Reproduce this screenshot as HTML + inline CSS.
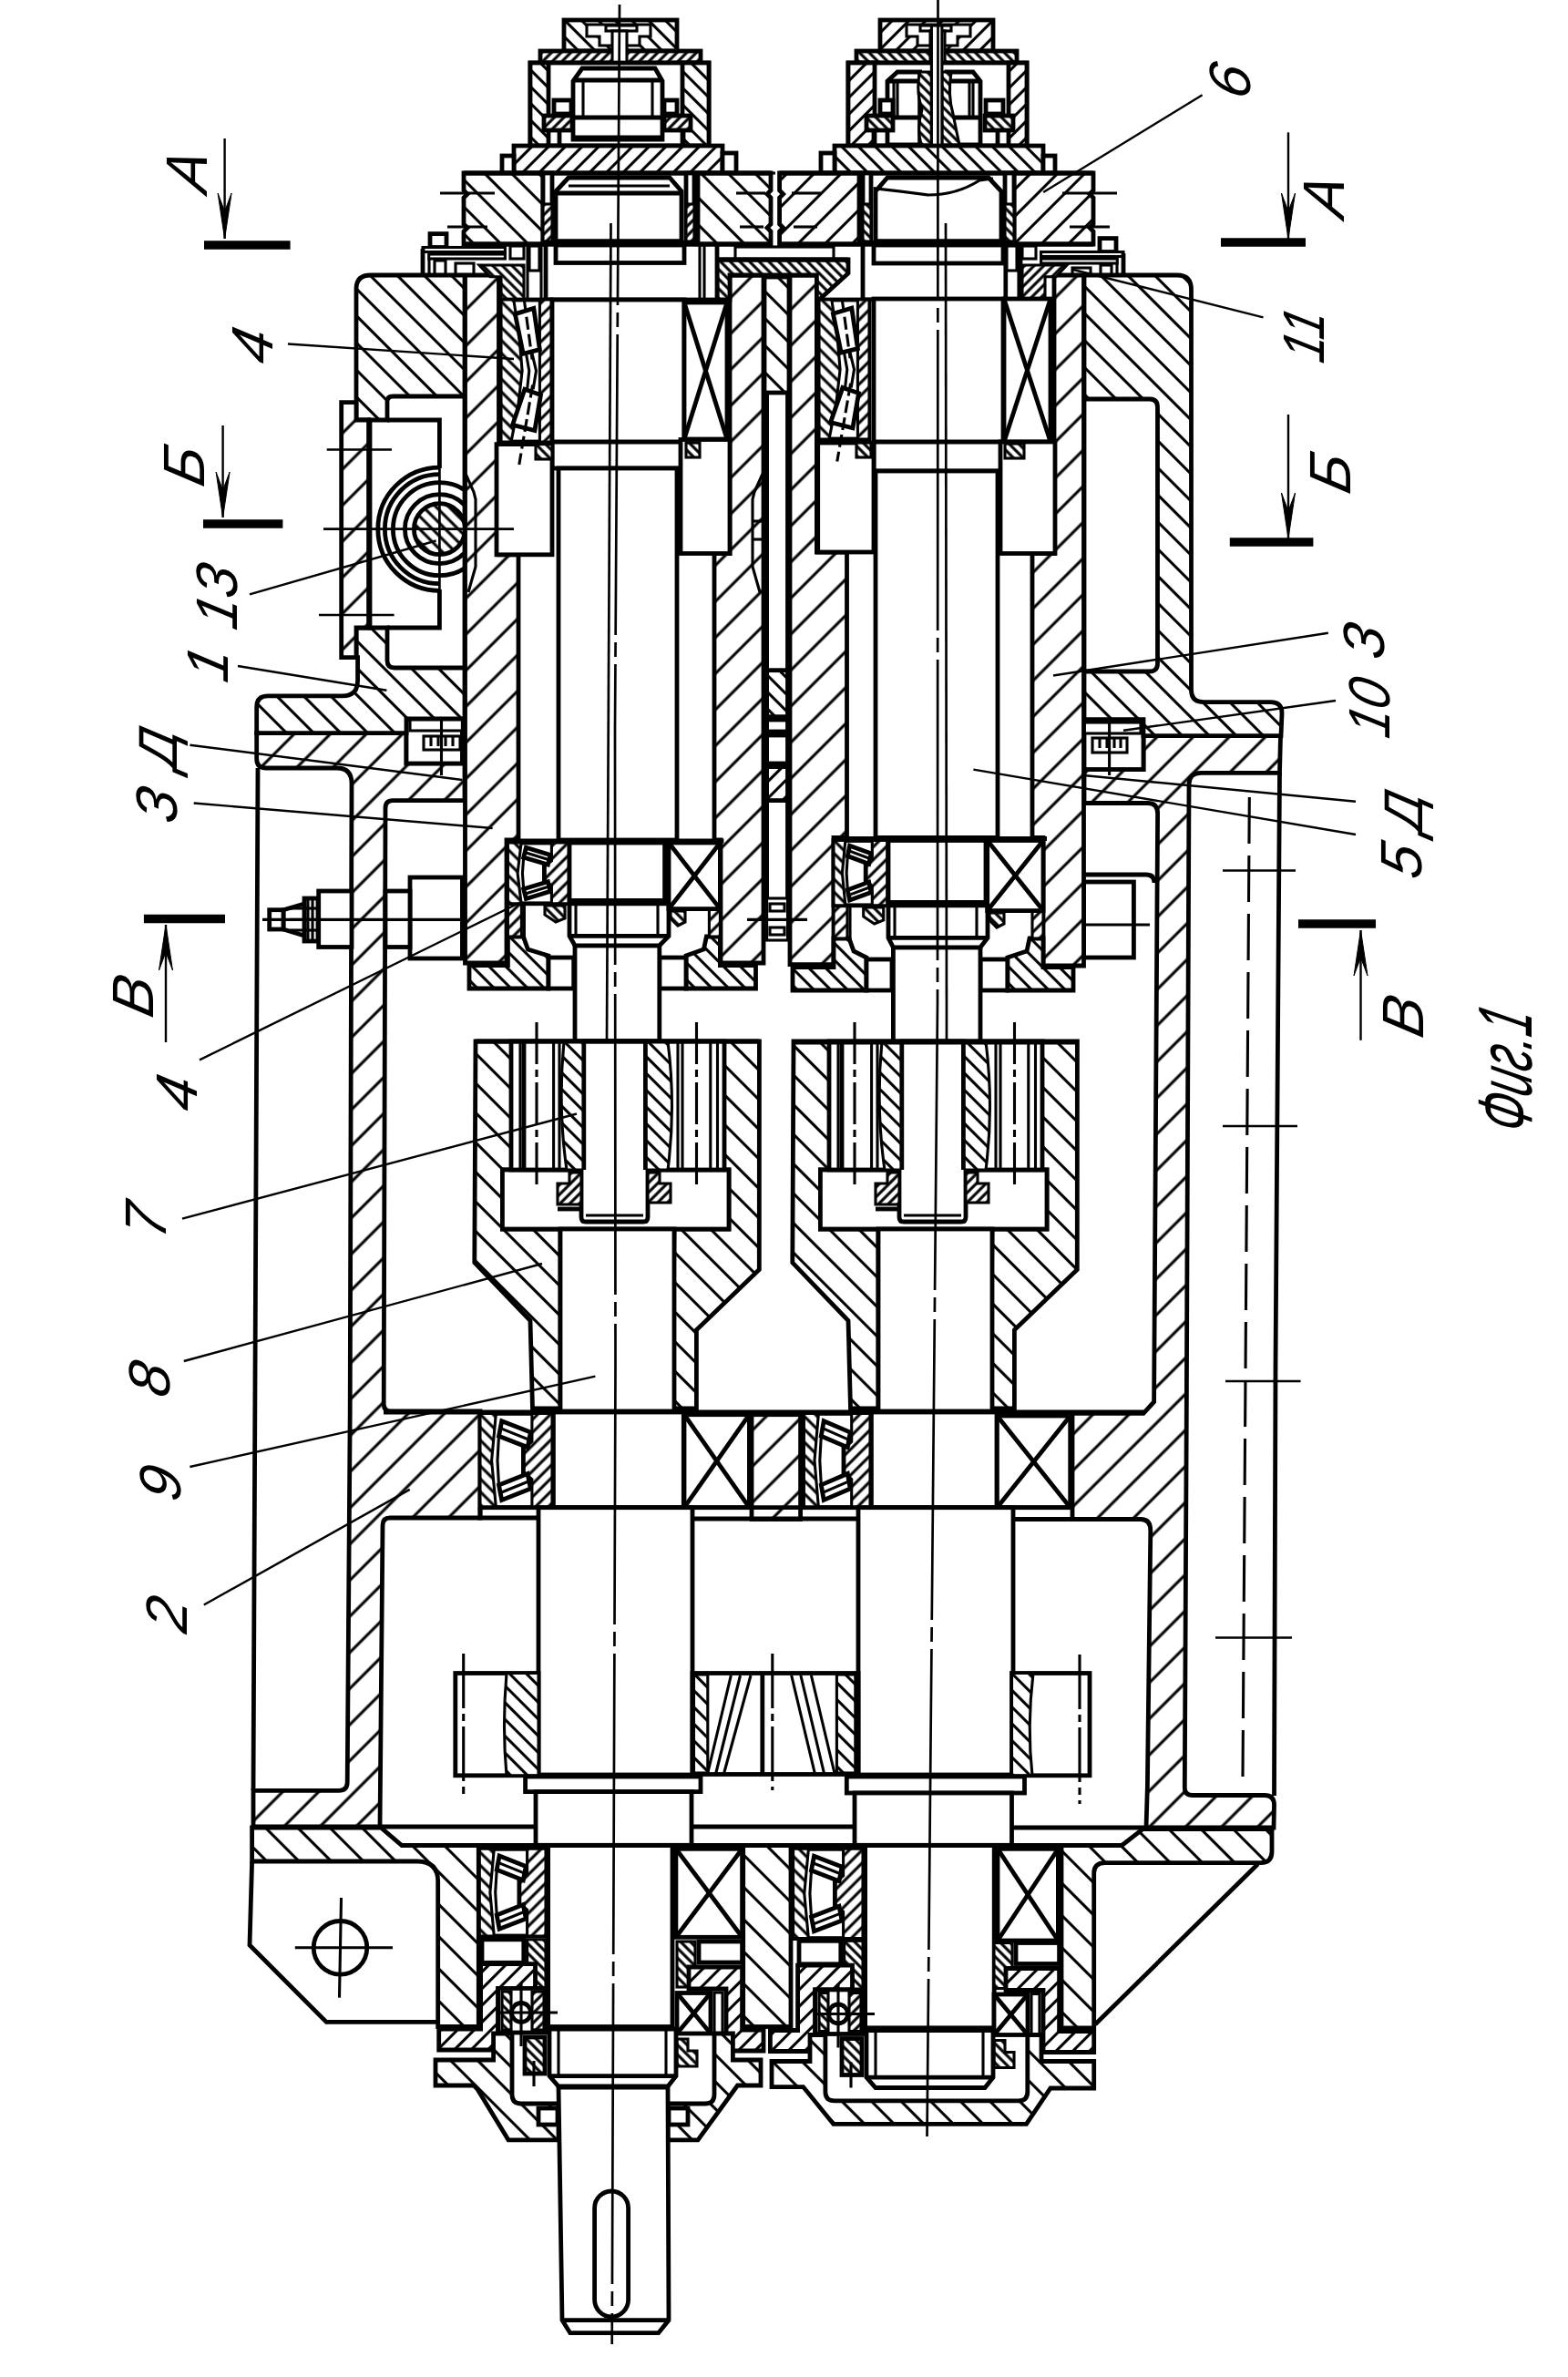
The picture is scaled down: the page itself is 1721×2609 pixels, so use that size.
<!DOCTYPE html><html><head><meta charset="utf-8"><title>Fig.1</title><style>html,body{margin:0;padding:0;background:#fff}svg{display:block}text{font-family:"Liberation Sans",sans-serif;font-style:italic}</style></head><body><svg width="1721" height="2609" viewBox="0 0 1721 2609" stroke="#000" stroke-linejoin="miter" fill="none"><defs><pattern id="w1" patternUnits="userSpaceOnUse" width="21" height="21" patternTransform="rotate(45)"><rect width="21" height="21" fill="#fff" stroke="none"/><line x1="0" y1="10.5" x2="21" y2="10.5" stroke="#000" stroke-width="3.1"/></pattern><pattern id="w2" patternUnits="userSpaceOnUse" width="21" height="21" patternTransform="rotate(-45)"><rect width="21" height="21" fill="#fff" stroke="none"/><line x1="0" y1="10.5" x2="21" y2="10.5" stroke="#000" stroke-width="3.1"/></pattern><pattern id="x2" patternUnits="userSpaceOnUse" width="28" height="28" patternTransform="rotate(-45)"><rect width="28" height="28" fill="#fff" stroke="none"/><line x1="0" y1="14" x2="28" y2="14" stroke="#000" stroke-width="3.1"/></pattern><pattern id="x1" patternUnits="userSpaceOnUse" width="28" height="28" patternTransform="rotate(45)"><rect width="28" height="28" fill="#fff" stroke="none"/><line x1="0" y1="14" x2="28" y2="14" stroke="#000" stroke-width="3.1"/></pattern><pattern id="c1" patternUnits="userSpaceOnUse" width="23" height="23" patternTransform="rotate(45)"><rect width="23" height="23" fill="#fff" stroke="none"/><line x1="0" y1="11.5" x2="23" y2="11.5" stroke="#000" stroke-width="3.1"/></pattern><pattern id="k1" patternUnits="userSpaceOnUse" width="25" height="25" patternTransform="rotate(45)"><rect width="25" height="25" fill="#fff" stroke="none"/><line x1="0" y1="12.5" x2="25" y2="12.5" stroke="#000" stroke-width="3.1"/></pattern><pattern id="m1" patternUnits="userSpaceOnUse" width="13" height="13" patternTransform="rotate(45)"><rect width="13" height="13" fill="#fff" stroke="none"/><line x1="0" y1="6.5" x2="13" y2="6.5" stroke="#000" stroke-width="3.1"/></pattern><pattern id="m2" patternUnits="userSpaceOnUse" width="13" height="13" patternTransform="rotate(-45)"><rect width="13" height="13" fill="#fff" stroke="none"/><line x1="0" y1="6.5" x2="13" y2="6.5" stroke="#000" stroke-width="3.1"/></pattern><pattern id="f1" patternUnits="userSpaceOnUse" width="7.5" height="7.5" patternTransform="rotate(45)"><rect width="7.5" height="7.5" fill="#fff" stroke="none"/><line x1="0" y1="3.8" x2="7.5" y2="3.8" stroke="#000" stroke-width="3.1"/></pattern><pattern id="f2" patternUnits="userSpaceOnUse" width="7.5" height="7.5" patternTransform="rotate(-45)"><rect width="7.5" height="7.5" fill="#fff" stroke="none"/><line x1="0" y1="3.8" x2="7.5" y2="3.8" stroke="#000" stroke-width="3.1"/></pattern><pattern id="v1" patternUnits="userSpaceOnUse" width="10" height="10" patternTransform="rotate(45)"><rect width="10" height="10" fill="#fff" stroke="none"/><line x1="0" y1="5" x2="10" y2="5" stroke="#000" stroke-width="3.1"/></pattern><pattern id="v2" patternUnits="userSpaceOnUse" width="10" height="10" patternTransform="rotate(-45)"><rect width="10" height="10" fill="#fff" stroke="none"/><line x1="0" y1="5" x2="10" y2="5" stroke="#000" stroke-width="3.1"/></pattern></defs><rect width="1721" height="2609" fill="#fff" stroke="none"/><path d="M281.7,804.6 L446,804.6 L446,837.8 L510,837.8 L510,878.6 L431,878.6 Q423,878.6 423,887 L421.2,1541 Q421.2,1549 429,1549 L527,1549 L527,1666 L428,1666 Q420,1666 420,1674 L417,2005 L278,2005 L278,1965.4 L372,1965.4 Q381.2,1965.4 381.2,1956 L384.2,1549 L386,860 Q386,843 370,843 L292,843 Q281.7,843 281.7,833 Z" fill="url(#x2)" stroke-width="4.8"/>
<polyline points="283,843 280.5,1400 278,1965" fill="none" stroke-width="4.8"/>
<path d="M1255,807.6 L1405.5,807.6 L1404.5,848.4 L1318,848.4 Q1305,848.4 1305,861 L1302.3,1550 L1300.3,1962 Q1300.3,1970.5 1309,1970.5 L1388,1970.5 Q1398.5,1970.5 1398.5,1981 L1398,2006 L1258,2006 L1259.4,1960 L1262.8,1680 Q1262.8,1667.5 1252,1667.5 L1177,1667.5 L1177,1551.4 L1255,1551.4 L1266.6,1538.7 L1270.6,893 Q1270.6,881.5 1260,881.5 L1190,881.5 L1190,844.5 L1255,844.5 Z" fill="url(#x2)" stroke-width="4.8"/>
<polyline points="1404.5,848 1400,1500 1398.5,1971" fill="none" stroke-width="4.8"/>
<rect x="825" y="1552.7" width="53.6" height="114.8" fill="url(#x2)" stroke-width="4.8"/>
<rect x="446" y="789.5" width="61.4" height="48.5" fill="#fff" stroke-width="4.8"/>
<rect x="450" y="789.5" width="57.4" height="12.5" fill="#fff" stroke-width="3.1"/>
<rect x="465" y="808" width="40" height="15" fill="#fff" stroke-width="3.1"/>
<line x1="473" y1="808" x2="473" y2="819" stroke-width="3.1"/>
<line x1="481" y1="808" x2="481" y2="819" stroke-width="3.1"/>
<line x1="489" y1="808" x2="489" y2="819" stroke-width="3.1"/>
<line x1="497" y1="808" x2="497" y2="819" stroke-width="3.1"/>
<line x1="484.5" y1="765" x2="484.5" y2="851" stroke-width="3.1"/>
<rect x="1190" y="789.5" width="65" height="55" fill="#fff" stroke-width="4.8"/>
<rect x="1190" y="793" width="62" height="12" fill="#fff" stroke-width="3.1"/>
<rect x="1199" y="810" width="38" height="16" fill="#fff" stroke-width="3.1"/>
<line x1="1207" y1="810" x2="1207" y2="821" stroke-width="3.1"/>
<line x1="1215" y1="810" x2="1215" y2="821" stroke-width="3.1"/>
<line x1="1223" y1="810" x2="1223" y2="821" stroke-width="3.1"/>
<line x1="1230" y1="810" x2="1230" y2="821" stroke-width="3.1"/>
<line x1="1217.6" y1="765" x2="1217.6" y2="851" stroke-width="3.1"/>
<rect x="450" y="963" width="57.4" height="89" fill="#fff" stroke-width="4.8"/>
<rect x="423" y="978" width="27" height="61.5" fill="#fff" stroke-width="4.8"/>
<rect x="1189.5" y="968" width="54.9" height="83" fill="#fff" stroke-width="4.8"/>
<path d="M1189.5,960 L1258,960 Q1267,960 1267,969" fill="none" stroke-width="4.8"/>
<line x1="1165" y1="1015" x2="1262" y2="1015" stroke-width="3.1"/>
<rect x="349.7" y="978" width="36.3" height="61.5" fill="#fff" stroke-width="4.8"/>
<rect x="334" y="986" width="15" height="47" fill="#fff" stroke-width="4.8"/>
<polygon points="334,992 311,998.7 311,1020 334,1027" fill="#fff" stroke-width="4.8"/>
<rect x="295.7" y="998.7" width="15.3" height="21.3" fill="#fff" stroke-width="4.8"/>
<line x1="338" y1="986" x2="338" y2="1033" stroke-width="3.1"/>
<line x1="343" y1="986" x2="343" y2="1033" stroke-width="3.1"/>
<line x1="318" y1="997" x2="349" y2="997" stroke-width="3.1"/>
<line x1="318" y1="1009.4" x2="349" y2="1009.4" stroke-width="3.1"/>
<line x1="318" y1="1021" x2="349" y2="1021" stroke-width="3.1"/>
<line x1="288" y1="1009.4" x2="545" y2="1009.4" stroke-width="3.1"/>
<path d="M407,302 L510,302 L510,789 L446,789 L446,804.6 L281.7,804.6 L281.7,776 Q281.7,763.8 294,763.8 L376,763.8 Q392.6,763.8 392.6,747 L392.6,721.7 L391,721.7 L391,689 L404.6,689 L404.6,461 L391,461 L391,317 Q391,302 407,302 Z" fill="url(#w1)" stroke-width="4.8"/>
<path d="M510,435 L431,435 Q425,435 425,441 L425,461 L406,461 L406,689 L425,689 L425,725 Q425,733 433,733 L510,733 Z" fill="#fff" stroke-width="4.8"/>
<polyline points="425,461 482.4,461 482.4,514" fill="none" stroke-width="4.8"/>
<polyline points="425,689 482.4,689 482.4,647" fill="none" stroke-width="4.8"/>
<polygon points="374.7,441.7 391,441.7 391,461 404.6,461 404.6,689 391,689 391,721.7 374.7,721.7" fill="url(#x2)" stroke-width="4.8"/>
<clipPath id="cw"><rect x="400" y="500" width="109" height="170"/></clipPath><g clip-path="url(#cw)">
<circle cx="482.4" cy="580.7" r="28" fill="url(#v1)" stroke-width="4.8"/>
<circle cx="482.4" cy="580.7" r="38" fill="none" stroke-width="4.8"/>
<circle cx="482.4" cy="580.7" r="51" fill="none" stroke-width="4.8"/>
<path d="M482.4,520.7 A60,60 0 0 0 482.4,640.7" fill="none" stroke-width="4.8"/>
<path d="M482.4,513.1 A67.6,67.6 0 0 0 482.4,648.3" fill="none" stroke-width="4.8"/>
</g>
<path d="M1190,302 L1292,302 Q1307.5,302 1307.5,318 L1307.5,757 Q1307.5,770.6 1321,770.6 L1395,770.6 Q1407,770.6 1407,783 L1406,807.6 L1255,807.6 L1255,789.7 L1190,789.7 Z" fill="url(#w1)" stroke-width="4.8"/>
<path d="M1190,438 L1262,438 Q1270.5,438 1270.5,447 L1270.5,728 Q1270.5,737 1262,737 L1190,737 Z" fill="#fff" stroke-width="4.8"/>
<polygon points="510.5,302 547.5,302 547.5,608.8 569,608.8 569,922 556,922 556,1057 510.5,1057" fill="url(#x2)" stroke-width="4.8"/>
<polygon points="838,302 801,302 801,607.5 784,607.5 784,922 791,922 791,1057 838,1057" fill="url(#x2)" stroke-width="4.8"/>
<polygon points="867,302 896.4,302 896.4,606 929.5,606 929.5,919.4 915,919.4 915,1058.6 867,1058.6" fill="url(#x2)" stroke-width="4.8"/>
<polygon points="1189.5,302 1157,302 1157,607.5 1133,607.5 1133,919.4 1145,919.4 1145,1060 1189.5,1060" fill="url(#x2)" stroke-width="4.8"/>
<rect x="839" y="304" width="27" height="127" fill="url(#w1)" stroke-width="4.8"/>
<polyline points="841.6,431 841.6,988 864.5,988 864.5,431" fill="none" stroke-width="4.8"/>
<rect x="841.6" y="735.7" width="22.9" height="51" fill="url(#m1)" stroke-width="4.8"/>
<rect x="841.6" y="790" width="22.9" height="13" fill="#fff" stroke-width="4.8"/>
<rect x="841.6" y="807" width="22.9" height="31" fill="#fff" stroke-width="4.8"/>
<rect x="841.6" y="841.6" width="22.9" height="37" fill="url(#m2)" stroke-width="4.8"/>
<rect x="807" y="271" width="108" height="14" fill="#fff" stroke-width="3.1"/>
<line x1="845" y1="190" x2="851" y2="190" stroke-width="3.1"/>
<polygon points="787,285 931,285 931,300 899,329 896.4,329 896.4,302 801,302 801,329 787,329" fill="url(#f1)" stroke-width="4.8"/>
<line x1="787" y1="285" x2="931" y2="285" stroke-width="4.8"/>
<rect x="599" y="266.5" width="188" height="62.5" fill="#fff" stroke-width="4.8"/>
<rect x="610" y="269" width="141" height="19.5" fill="#fff" stroke-width="4.8"/>
<line x1="768" y1="270" x2="768" y2="329" stroke-width="3.1"/>
<line x1="773" y1="270" x2="773" y2="329" stroke-width="3.1"/>
<rect x="947" y="266.5" width="173" height="62.5" fill="#fff" stroke-width="4.8"/>
<rect x="959" y="269" width="142" height="20" fill="#fff" stroke-width="4.8"/>
<line x1="1104.6" y1="270" x2="1104.6" y2="329" stroke-width="3.1"/>
<rect x="606" y="329" width="145" height="185" fill="#fff" stroke-width="4.8"/>
<line x1="606" y1="485" x2="751" y2="485" stroke-width="4.8"/>
<rect x="959" y="328" width="142" height="189" fill="#fff" stroke-width="4.8"/>
<line x1="959" y1="485" x2="1101" y2="485" stroke-width="4.8"/>
<rect x="472" y="256.6" width="18" height="14.9" fill="#fff" stroke-width="4.8"/>
<rect x="464" y="271.5" width="90.4" height="5" fill="#fff" stroke-width="3.1"/>
<rect x="470.7" y="279" width="83.7" height="5" fill="#fff" stroke-width="3.1"/>
<polyline points="464,273 464,303" fill="none" stroke-width="4.8"/>
<line x1="471" y1="284" x2="471" y2="303" stroke-width="3.1"/>
<rect x="477" y="286" width="12" height="15" fill="#fff" stroke-width="3.1"/>
<rect x="500" y="289" width="20" height="12" fill="#fff" stroke-width="3.1"/>
<polygon points="526,291 575,291 575,329 550,329 550,303.8 538,303.8" fill="url(#f1)" stroke-width="3.1"/>
<line x1="579" y1="270" x2="579" y2="329" stroke-width="3.1"/>
<line x1="594" y1="270" x2="594" y2="330" stroke-width="3.1"/>
<rect x="560" y="270" width="15" height="14" fill="#fff" stroke-width="3.1"/>
<rect x="581" y="270" width="11" height="27" fill="#fff" stroke-width="3.1"/>
<rect x="1207" y="261.6" width="18" height="14.9" fill="#fff" stroke-width="4.8"/>
<rect x="1142.6" y="276.5" width="90.4" height="5" fill="#fff" stroke-width="3.1"/>
<rect x="1142.6" y="284" width="83.7" height="5" fill="#fff" stroke-width="3.1"/>
<polyline points="1233,278 1233,303" fill="none" stroke-width="4.8"/>
<line x1="1226" y1="289" x2="1226" y2="303" stroke-width="3.1"/>
<rect x="1208" y="291" width="12" height="10" fill="#fff" stroke-width="3.1"/>
<rect x="1177" y="294" width="20" height="7" fill="#fff" stroke-width="3.1"/>
<polygon points="1171,291 1122,291 1122,329 1147,329 1147,303.8 1159,303.8" fill="url(#f2)" stroke-width="3.1"/>
<line x1="1118" y1="270" x2="1118" y2="329" stroke-width="3.1"/>
<line x1="1103" y1="270" x2="1103" y2="330" stroke-width="3.1"/>
<rect x="1122" y="270" width="15" height="14" fill="#fff" stroke-width="3.1"/>
<rect x="1105" y="270" width="11" height="27" fill="#fff" stroke-width="3.1"/>
<rect x="613" y="514" width="130" height="408" fill="#fff" stroke-width="4.8"/>
<rect x="961" y="517" width="134" height="402.4" fill="#fff" stroke-width="4.8"/>
<rect x="751" y="332" width="47" height="150" fill="#fff" stroke-width="4.8"/>
<line x1="751" y1="332" x2="798" y2="482" stroke-width="4.8"/>
<line x1="751" y1="482" x2="798" y2="332" stroke-width="4.8"/>
<rect x="1102" y="328" width="51" height="157" fill="#fff" stroke-width="4.8"/>
<line x1="1102" y1="328" x2="1153" y2="485" stroke-width="4.8"/>
<line x1="1102" y1="485" x2="1153" y2="328" stroke-width="4.8"/>
<rect x="545" y="487.6" width="61" height="121.2" fill="#fff" stroke-width="4.8"/>
<rect x="747" y="482.5" width="54" height="125" fill="#fff" stroke-width="4.8"/>
<rect x="897.7" y="486" width="61.3" height="120" fill="#fff" stroke-width="4.8"/>
<rect x="1098" y="485" width="60" height="122.5" fill="#fff" stroke-width="4.8"/>
<rect x="588" y="487.6" width="18" height="16.4" fill="url(#f1)" stroke-width="3.1"/>
<rect x="753" y="486" width="15" height="16" fill="url(#f1)" stroke-width="3.1"/>
<rect x="940" y="486" width="16" height="16" fill="url(#f1)" stroke-width="3.1"/>
<rect x="1103" y="487" width="21" height="16" fill="url(#f1)" stroke-width="3.1"/>
<rect x="550" y="329" width="55" height="156" fill="#fff" stroke-width="4.8"/>
<polygon points="550,329 563.8,329 569.8,368 573.1,407 568.7,446 561,485 550,485" fill="url(#v1)" stroke-width="3.1"/>
<polygon points="605,329 592.4,329 592.4,485 605,485" fill="url(#v2)" stroke-width="3.1"/>
<polygon points="565.4,344.6 585.8,338.4 592.4,383.6 574.2,388.3" fill="#fff" stroke-width="4.8"/>
<polygon points="575.9,427.3 593.5,433.5 586.9,472.5 562.6,466.3" fill="#fff" stroke-width="4.8"/>
<line x1="575.3" y1="329" x2="584.1" y2="394.5" stroke-width="3.1" stroke-dasharray="14 5"/>
<line x1="584.6" y1="422.6" x2="569.8" y2="510" stroke-width="3.1" stroke-dasharray="14 5"/>
<polyline points="584.1,388.3 588.5,407 585.2,427.3" fill="none" stroke-width="3.1"/>
<polyline points="577.5,388.3 580.8,407 578.6,427.3" fill="none" stroke-width="3.1"/>
<rect x="899" y="329" width="55" height="153" fill="#fff" stroke-width="4.8"/>
<polygon points="899,329 912.8,329 918.8,367.2 922.1,405.5 917.7,443.8 910,482 899,482" fill="url(#v1)" stroke-width="3.1"/>
<polygon points="954,329 941.4,329 941.4,482 954,482" fill="url(#v2)" stroke-width="3.1"/>
<polygon points="914.4,344.3 934.8,338.2 941.4,382.6 923.2,387.1" fill="#fff" stroke-width="4.8"/>
<polygon points="924.9,425.4 942.5,431.5 935.9,469.8 911.6,463.6" fill="#fff" stroke-width="4.8"/>
<line x1="924.3" y1="329" x2="933.1" y2="393.3" stroke-width="3.1" stroke-dasharray="14 5"/>
<line x1="933.6" y1="420.8" x2="918.8" y2="506.5" stroke-width="3.1" stroke-dasharray="14 5"/>
<polyline points="933.1,387.1 937.5,405.5 934.2,425.4" fill="none" stroke-width="3.1"/>
<polyline points="926.5,387.1 929.8,405.5 927.6,425.4" fill="none" stroke-width="3.1"/>
<polyline points="511,520 520,540 522,548 522,622 514,650" fill="none" stroke-width="3.1"/>
<polyline points="837,520 828,540 826,548 826,622 834,650" fill="none" stroke-width="3.1"/>
<line x1="826" y1="572" x2="837" y2="572" stroke-width="3.1"/>
<line x1="826" y1="592" x2="837" y2="592" stroke-width="3.1"/>
<rect x="619" y="22" width="124" height="34" fill="url(#m1)" stroke-width="4.8"/>
<polygon points="644,27 714,27 714,40 702,40 702,50 658,50 658,40 644,40" fill="#fff" stroke-width="3.1"/>
<rect x="665" y="28" width="34" height="6" fill="#fff" stroke-width="3.1"/>
<rect x="593" y="56" width="176" height="13" fill="url(#f2)" stroke-width="4.8"/>
<rect x="672" y="34" width="16" height="42" fill="#fff" stroke-width="3.1"/>
<rect x="582" y="69" width="196" height="91" fill="#fff" stroke-width="4.8"/>
<rect x="582" y="69" width="20" height="91" fill="url(#m1)" stroke-width="4.8"/>
<rect x="749" y="69" width="29" height="91" fill="url(#m1)" stroke-width="4.8"/>
<polygon points="639,75 719,75 727,89 727,153 629,153 629,89" fill="#fff" stroke-width="4.8"/>
<line x1="629" y1="88" x2="727" y2="88" stroke-width="4.8"/>
<line x1="640" y1="89" x2="640" y2="128" stroke-width="3.1"/>
<line x1="716" y1="89" x2="716" y2="128" stroke-width="3.1"/>
<line x1="629" y1="129" x2="727" y2="129" stroke-width="4.8"/>
<line x1="629" y1="150" x2="727" y2="150" stroke-width="3.1"/>
<rect x="597" y="127" width="31" height="16" fill="url(#f2)" stroke-width="4.8"/>
<rect x="729" y="127" width="29" height="16" fill="url(#f2)" stroke-width="4.8"/>
<rect x="608" y="110" width="19" height="15" fill="#fff" stroke-width="4.8"/>
<rect x="729" y="110" width="14" height="15" fill="#fff" stroke-width="4.8"/>
<line x1="614" y1="143" x2="614" y2="160" stroke-width="4.8"/>
<line x1="750" y1="143" x2="750" y2="160" stroke-width="4.8"/>
<rect x="564" y="160" width="229" height="30" fill="url(#m2)" stroke-width="4.8"/>
<rect x="551" y="171" width="13" height="19" fill="#fff" stroke-width="4.8"/>
<rect x="793" y="168" width="15" height="22" fill="#fff" stroke-width="4.8"/>
<polygon points="596,190 509,190 509,209 513,213 509,217 509,246 513,250 509,254 509,268 596,268" fill="url(#w1)" stroke-width="4.8"/>
<polygon points="766,190 846,190 846,209 842,213 846,217 846,246 842,250 846,254 846,268 766,268" fill="url(#w1)" stroke-width="4.8"/>
<line x1="509" y1="190" x2="846" y2="190" stroke-width="4.8"/>
<line x1="509" y1="268" x2="846" y2="268" stroke-width="4.8"/>
<rect x="596" y="190" width="10" height="78" fill="#fff" stroke-width="4.8"/>
<rect x="596" y="224" width="10" height="41" fill="url(#f2)" stroke-width="3.1"/>
<rect x="753" y="190" width="9" height="78" fill="#fff" stroke-width="4.8"/>
<rect x="753" y="224" width="9" height="41" fill="url(#f2)" stroke-width="3.1"/>
<polygon points="624,195 735,195 748,210 748,265 610,265 610,210" fill="#fff" stroke-width="4.8"/>
<line x1="624" y1="204" x2="735" y2="204" stroke-width="3.1"/>
<line x1="610" y1="212" x2="748" y2="212" stroke-width="4.8"/>
<line x1="610" y1="265" x2="748" y2="265" stroke-width="4.8"/>
<line x1="483" y1="212" x2="543" y2="212" stroke-width="3.1"/>
<line x1="491" y1="249" x2="535" y2="249" stroke-width="3.1"/>
<line x1="808" y1="212" x2="840" y2="212" stroke-width="3.1"/>
<line x1="812" y1="249" x2="838" y2="249" stroke-width="3.1"/>
<rect x="966" y="22" width="124" height="34" fill="url(#m2)" stroke-width="4.8"/>
<polygon points="1065,27 995,27 995,40 1007,40 1007,50 1051,50 1051,40 1065,40" fill="#fff" stroke-width="3.1"/>
<rect x="1010" y="28" width="34" height="6" fill="#fff" stroke-width="3.1"/>
<rect x="940" y="56" width="176" height="13" fill="url(#f1)" stroke-width="4.8"/>
<rect x="1021" y="34" width="16" height="42" fill="#fff" stroke-width="3.1"/>
<rect x="931" y="69" width="196" height="91" fill="#fff" stroke-width="4.8"/>
<rect x="1107" y="69" width="20" height="91" fill="url(#m2)" stroke-width="4.8"/>
<rect x="931" y="69" width="29" height="91" fill="url(#m2)" stroke-width="4.8"/>
<polygon points="974,89 985,79 1009.6,79 1009.6,159 974,159" fill="#fff" stroke-width="4.8"/>
<polygon points="1039,79 1068,79 1076,89 1076,159 1039,159" fill="#fff" stroke-width="4.8"/>
<line x1="974" y1="89" x2="1009.6" y2="89" stroke-width="4.8"/>
<line x1="1039" y1="89" x2="1076" y2="89" stroke-width="4.8"/>
<line x1="974" y1="129" x2="1009.6" y2="129" stroke-width="4.8"/>
<line x1="1039" y1="129" x2="1076" y2="129" stroke-width="4.8"/>
<line x1="981" y1="89" x2="981" y2="129" stroke-width="3.1"/>
<line x1="985" y1="89" x2="985" y2="129" stroke-width="3.1"/>
<line x1="1064" y1="89" x2="1064" y2="129" stroke-width="3.1"/>
<line x1="1068" y1="89" x2="1068" y2="129" stroke-width="3.1"/>
<path d="M1009.6,79 L1022.4,79 L1022.4,159 L1011,159 Q1006,140 1012,120 Q1005,100 1009.6,79 Z" fill="url(#f1)" stroke-width="3.1"/>
<path d="M1033.9,79 L1044,79 Q1040,105 1046,125 Q1050,145 1053,159 L1033.9,159 Z" fill="url(#f1)" stroke-width="3.1"/>
<rect x="1022.4" y="28" width="11.5" height="133" fill="#fff" stroke-width="3.1"/>
<rect x="1081" y="127" width="31" height="16" fill="url(#f1)" stroke-width="4.8"/>
<rect x="951" y="127" width="29" height="16" fill="url(#f1)" stroke-width="4.8"/>
<rect x="1082" y="110" width="19" height="15" fill="#fff" stroke-width="4.8"/>
<rect x="966" y="110" width="14" height="15" fill="#fff" stroke-width="4.8"/>
<line x1="1095" y1="143" x2="1095" y2="160" stroke-width="4.8"/>
<line x1="959" y1="143" x2="959" y2="160" stroke-width="4.8"/>
<rect x="916" y="160" width="229" height="30" fill="url(#m1)" stroke-width="4.8"/>
<rect x="1145" y="171" width="13" height="19" fill="#fff" stroke-width="4.8"/>
<rect x="901" y="168" width="15" height="22" fill="#fff" stroke-width="4.8"/>
<polygon points="1113,190 1200,190 1200,209 1196,213 1200,217 1200,246 1196,250 1200,254 1200,268 1113,268" fill="url(#w2)" stroke-width="4.8"/>
<polygon points="943,190 855.6,190 855.6,209 859.6,213 855.6,217 855.6,246 859.6,250 855.6,254 855.6,268 943,268" fill="url(#w2)" stroke-width="4.8"/>
<line x1="1200" y1="190" x2="855.6" y2="190" stroke-width="4.8"/>
<line x1="1200" y1="268" x2="855.6" y2="268" stroke-width="4.8"/>
<rect x="1103" y="190" width="10" height="78" fill="#fff" stroke-width="4.8"/>
<rect x="1103" y="224" width="10" height="41" fill="url(#f1)" stroke-width="3.1"/>
<rect x="947" y="190" width="9" height="78" fill="#fff" stroke-width="4.8"/>
<rect x="947" y="224" width="9" height="41" fill="url(#f1)" stroke-width="3.1"/>
<polygon points="1085,195 974,195 961,210 961,265 1099,265 1099,210" fill="#fff" stroke-width="4.8"/>
<line x1="1099" y1="265" x2="961" y2="265" stroke-width="4.8"/>
<line x1="1226" y1="212" x2="1166" y2="212" stroke-width="3.1"/>
<line x1="1218" y1="249" x2="1174" y2="249" stroke-width="3.1"/>
<line x1="901" y1="212" x2="869" y2="212" stroke-width="3.1"/>
<line x1="897" y1="249" x2="871" y2="249" stroke-width="3.1"/>
<path d="M958.6,206.6 Q990,210 1018.6,214 Q1050,214 1075,198 L1090,196" fill="none" stroke-width="3.1"/>
<polygon points="515,1059.6 557.4,1059.6 557.4,1028 574.4,1028 579.4,1042 602,1049 602,1085 515,1085" fill="url(#m1)" stroke-width="4.8"/>
<polygon points="829.5,1059.6 790.4,1059.6 790.4,1028 775.4,1028 772.4,1042 753,1049 753,1085 829.5,1085" fill="url(#m1)" stroke-width="4.8"/>
<rect x="602" y="1051" width="27.7" height="34" fill="#fff" stroke-width="4.8"/>
<rect x="723.8" y="1051" width="29.2" height="34" fill="#fff" stroke-width="4.8"/>
<rect x="557.4" y="991.8" width="15" height="36.2" fill="url(#v2)" stroke-width="3.1"/>
<rect x="778.4" y="997.6" width="12" height="30.4" fill="url(#v2)" stroke-width="3.1"/>
<rect x="631" y="1037.8" width="92.8" height="105.2" fill="#fff" stroke-width="4.8"/>
<polygon points="625,991.8 734,991.8 734,1027.4 723.8,1037.8 631,1037.8 625,1027.4" fill="#fff" stroke-width="4.8"/>
<line x1="625" y1="1027.4" x2="734" y2="1027.4" stroke-width="4.8"/>
<line x1="632" y1="991.8" x2="632" y2="1027.4" stroke-width="3.1"/>
<line x1="722" y1="991.8" x2="722" y2="1027.4" stroke-width="3.1"/>
<rect x="625" y="925" width="104.6" height="63.4" fill="#fff" stroke-width="4.8"/>
<rect x="734" y="925" width="56.4" height="72.6" fill="#fff" stroke-width="4.8"/>
<line x1="734" y1="925" x2="790.4" y2="997.6" stroke-width="4.8"/>
<line x1="734" y1="997.6" x2="790.4" y2="925" stroke-width="4.8"/>
<rect x="557.4" y="925" width="66.6" height="66.8" fill="#fff" stroke-width="4.8"/>
<polygon points="557.4,925 572.1,925 568.1,958.4 572.1,991.8 557.4,991.8" fill="url(#v1)" stroke-width="3.1"/>
<polygon points="624,925 605.4,925 605.4,945 597.4,950.4 597.4,966.4 605.4,971.8 605.4,991.8 624,991.8" fill="url(#v2)" stroke-width="3.1"/>
<polygon points="577.4,930.3 604,938.4 601.4,949 574.7,941" fill="#fff" stroke-width="4.8"/>
<line x1="576.7" y1="935.7" x2="602.7" y2="943.7" stroke-width="3.1"/>
<polygon points="574.7,975.8 601.4,967.8 604,978.4 577.4,986.5" fill="#fff" stroke-width="4.8"/>
<line x1="576.7" y1="981.1" x2="602.7" y2="973.1" stroke-width="3.1"/>
<polyline points="574.7,941 573.4,958.4 574.7,975.8" fill="none" stroke-width="3.1"/>
<polyline points="597.4,947.7 597.4,969.1" fill="none" stroke-width="4.8"/>
<line x1="556.4" y1="923" x2="794.4" y2="923" stroke-width="4.8"/>
<polygon points="598,994 620,994 620,1008 610,1012 598,1004" fill="url(#f1)" stroke-width="3.1"/>
<polygon points="736,1000 752,1000 752,1012 744,1016 736,1008" fill="url(#f1)" stroke-width="3.1"/>
<polyline points="575.4,994 575.4,1032" fill="none" stroke-width="3.1"/>
<polygon points="870,1061.6 915,1061.6 915,1030 932,1030 937,1044 951,1051 951,1087 870,1087" fill="url(#m1)" stroke-width="4.8"/>
<polygon points="1178,1061.6 1145,1061.6 1145,1030 1130,1030 1127,1044 1105.8,1051 1105.8,1087 1178,1087" fill="url(#m1)" stroke-width="4.8"/>
<rect x="951" y="1053" width="28" height="34" fill="#fff" stroke-width="4.8"/>
<rect x="1076" y="1053" width="29.8" height="34" fill="#fff" stroke-width="4.8"/>
<rect x="915" y="993.8" width="15" height="36.2" fill="url(#v2)" stroke-width="3.1"/>
<rect x="1133" y="999.6" width="12" height="30.4" fill="url(#v2)" stroke-width="3.1"/>
<rect x="980.4" y="1039.8" width="95.6" height="105.2" fill="#fff" stroke-width="4.8"/>
<polygon points="975,993.8 1084,993.8 1084,1029.4 1076,1039.8 980.4,1039.8 975,1029.4" fill="#fff" stroke-width="4.8"/>
<line x1="975" y1="1029.4" x2="1084" y2="1029.4" stroke-width="4.8"/>
<line x1="982" y1="993.8" x2="982" y2="1029.4" stroke-width="3.1"/>
<line x1="1072" y1="993.8" x2="1072" y2="1029.4" stroke-width="3.1"/>
<rect x="975" y="922.5" width="107" height="67.9" fill="#fff" stroke-width="4.8"/>
<rect x="1083.7" y="922.5" width="61.3" height="77.1" fill="#fff" stroke-width="4.8"/>
<line x1="1083.7" y1="922.5" x2="1145" y2="999.6" stroke-width="4.8"/>
<line x1="1083.7" y1="999.6" x2="1145" y2="922.5" stroke-width="4.8"/>
<rect x="915" y="922.5" width="58.7" height="71.3" fill="#fff" stroke-width="4.8"/>
<polygon points="915,922.5 927.9,922.5 924.4,958.1 927.9,993.8 915,993.8" fill="url(#v1)" stroke-width="3.1"/>
<polygon points="973.7,922.5 957.3,922.5 957.3,943.9 950.2,949.6 950.2,966.7 957.3,972.4 957.3,993.8 973.7,993.8" fill="url(#v2)" stroke-width="3.1"/>
<polygon points="932.6,928.2 956.1,936.8 953.7,948.2 930.3,939.6" fill="#fff" stroke-width="4.8"/>
<line x1="932" y1="933.9" x2="954.9" y2="942.5" stroke-width="3.1"/>
<polygon points="930.3,976.7 953.7,968.1 956.1,979.5 932.6,988.1" fill="#fff" stroke-width="4.8"/>
<line x1="932" y1="982.4" x2="954.9" y2="973.8" stroke-width="3.1"/>
<polyline points="930.3,939.6 929.1,958.1 930.3,976.7" fill="none" stroke-width="3.1"/>
<polyline points="950.2,946.7 950.2,969.6" fill="none" stroke-width="4.8"/>
<line x1="914" y1="920.5" x2="1149" y2="920.5" stroke-width="4.8"/>
<polygon points="947.7,996 969.7,996 969.7,1010 959.7,1014 947.7,1006" fill="url(#f1)" stroke-width="3.1"/>
<polygon points="1086,1002 1102,1002 1102,1014 1094,1018 1086,1010" fill="url(#f1)" stroke-width="3.1"/>
<polyline points="933,996 933,1034" fill="none" stroke-width="3.1"/>
<rect x="841.6" y="986" width="22.9" height="46" fill="#fff" stroke-width="3.1"/>
<line x1="820" y1="1009.4" x2="886" y2="1009.4" stroke-width="3.1"/>
<rect x="845" y="992" width="16" height="8" fill="#fff" stroke-width="3.1"/>
<rect x="845" y="1018" width="16" height="8" fill="#fff" stroke-width="3.1"/>
<polygon points="522,1143 833.4,1143 833.3,1393.5 764.4,1459.8 764.4,1546 738,1546 740,1349 800,1349 800,1284 551.4,1284 551.4,1349 615,1349 615,1546 584.5,1546 582,1449.6 520.8,1385.8" fill="url(#c1)" stroke-width="4.8"/>
<rect x="551.4" y="1284" width="248.6" height="65" fill="#fff" stroke-width="4.8"/>
<rect x="561" y="1143" width="234" height="141" fill="#fff" stroke-width="4.8"/>
<path d="M619,1143 L640.8,1143 L640.8,1284 L622,1284 Q612,1215 619,1143 Z" fill="url(#m1)" stroke-width="3.1"/>
<path d="M708.4,1143 L733,1143 Q742,1215 733,1284 L708.4,1284 Z" fill="url(#m1)" stroke-width="3.1"/>
<rect x="640.8" y="1143" width="67.6" height="197" fill="#fff" stroke-width="4.8"/>
<line x1="571" y1="1143" x2="571" y2="1284" stroke-width="3.1"/>
<line x1="607.6" y1="1143" x2="607.6" y2="1284" stroke-width="3.1"/>
<line x1="614" y1="1143" x2="614" y2="1284" stroke-width="3.1"/>
<line x1="744" y1="1143" x2="744" y2="1284" stroke-width="3.1"/>
<line x1="749" y1="1143" x2="749" y2="1284" stroke-width="3.1"/>
<line x1="779.8" y1="1143" x2="779.8" y2="1284" stroke-width="3.1"/>
<line x1="787.5" y1="1143" x2="787.5" y2="1284" stroke-width="3.1"/>
<line x1="575" y1="1143" x2="575" y2="1284" stroke-width="4.8"/>
<line x1="589" y1="1122" x2="589" y2="1300" stroke-width="3.1" stroke-dasharray="46 6 8 6"/>
<line x1="764.5" y1="1122" x2="764.5" y2="1300" stroke-width="3.1" stroke-dasharray="46 6 8 6"/>
<path d="M638,1284 L638,1336 Q638,1341 643,1341 L706,1341 Q711,1341 711,1336 L711,1284" fill="#fff" stroke-width="4.8"/>
<line x1="643" y1="1334" x2="706" y2="1334" stroke-width="3.1"/>
<polygon points="612,1299 625,1299 625,1287 638,1287 638,1322 612,1322" fill="url(#f2)" stroke-width="3.1"/>
<polygon points="711,1287 724,1287 724,1299 736,1299 736,1320 711,1320" fill="url(#f2)" stroke-width="3.1"/>
<line x1="612" y1="1327" x2="638" y2="1327" stroke-width="4.8"/>
<rect x="615" y="1349" width="125" height="200" fill="#fff" stroke-width="4.8"/>
<polygon points="871,1143 1182.4,1143 1182.3,1393.5 1113.4,1459.8 1113.4,1546 1087,1546 1089,1349 1149,1349 1149,1284 900.4,1284 900.4,1349 964,1349 964,1546 933.5,1546 931,1449.6 869.8,1385.8" fill="url(#c1)" stroke-width="4.8"/>
<rect x="900.4" y="1284" width="248.6" height="65" fill="#fff" stroke-width="4.8"/>
<rect x="910" y="1143" width="234" height="141" fill="#fff" stroke-width="4.8"/>
<path d="M968,1143 L989.8,1143 L989.8,1284 L971,1284 Q961,1215 968,1143 Z" fill="url(#m1)" stroke-width="3.1"/>
<path d="M1057.4,1143 L1082,1143 Q1091,1215 1082,1284 L1057.4,1284 Z" fill="url(#m1)" stroke-width="3.1"/>
<rect x="989.8" y="1143" width="67.6" height="197" fill="#fff" stroke-width="4.8"/>
<line x1="920" y1="1143" x2="920" y2="1284" stroke-width="3.1"/>
<line x1="956.6" y1="1143" x2="956.6" y2="1284" stroke-width="3.1"/>
<line x1="963" y1="1143" x2="963" y2="1284" stroke-width="3.1"/>
<line x1="1093" y1="1143" x2="1093" y2="1284" stroke-width="3.1"/>
<line x1="1098" y1="1143" x2="1098" y2="1284" stroke-width="3.1"/>
<line x1="1128.8" y1="1143" x2="1128.8" y2="1284" stroke-width="3.1"/>
<line x1="1136.5" y1="1143" x2="1136.5" y2="1284" stroke-width="3.1"/>
<line x1="924" y1="1143" x2="924" y2="1284" stroke-width="4.8"/>
<line x1="938" y1="1122" x2="938" y2="1300" stroke-width="3.1" stroke-dasharray="46 6 8 6"/>
<line x1="1113.5" y1="1122" x2="1113.5" y2="1300" stroke-width="3.1" stroke-dasharray="46 6 8 6"/>
<path d="M987,1284 L987,1336 Q987,1341 992,1341 L1055,1341 Q1060,1341 1060,1336 L1060,1284" fill="#fff" stroke-width="4.8"/>
<line x1="992" y1="1334" x2="1055" y2="1334" stroke-width="3.1"/>
<polygon points="961,1299 974,1299 974,1287 987,1287 987,1322 961,1322" fill="url(#f2)" stroke-width="3.1"/>
<polygon points="1060,1287 1073,1287 1073,1299 1085,1299 1085,1320 1060,1320" fill="url(#f2)" stroke-width="3.1"/>
<line x1="961" y1="1327" x2="987" y2="1327" stroke-width="4.8"/>
<rect x="964" y="1349" width="125" height="200" fill="#fff" stroke-width="4.8"/>
<line x1="522" y1="1143" x2="833.4" y2="1143" stroke-width="4.8"/>
<line x1="871" y1="1144" x2="1182" y2="1144" stroke-width="4.8"/>
<line x1="421" y1="1550" x2="1255" y2="1550" stroke-width="4.8"/>
<rect x="607.4" y="1550" width="142.9" height="104.7" fill="#fff" stroke-width="4.8"/>
<rect x="956.4" y="1550" width="137.6" height="104.7" fill="#fff" stroke-width="4.8"/>
<rect x="751" y="1552.7" width="71.4" height="102" fill="#fff" stroke-width="4.8"/>
<line x1="751" y1="1552.7" x2="822.4" y2="1654.7" stroke-width="4.8"/>
<line x1="751" y1="1654.7" x2="822.4" y2="1552.7" stroke-width="4.8"/>
<rect x="1094.4" y="1554" width="80.3" height="100.7" fill="#fff" stroke-width="4.8"/>
<line x1="1094.4" y1="1554" x2="1174.7" y2="1654.7" stroke-width="4.8"/>
<line x1="1094.4" y1="1654.7" x2="1174.7" y2="1554" stroke-width="4.8"/>
<rect x="527" y="1551.4" width="79" height="103.3" fill="#fff" stroke-width="4.8"/>
<polygon points="527,1551.4 544.4,1551.4 539.6,1603.1 544.4,1654.7 527,1654.7" fill="url(#v1)" stroke-width="3.1"/>
<polygon points="606,1551.4 583.9,1551.4 583.9,1582.4 574.4,1590.7 574.4,1615.4 583.9,1623.7 583.9,1654.7 606,1654.7" fill="url(#v2)" stroke-width="3.1"/>
<polygon points="550.7,1559.7 582.3,1572.1 579.1,1588.6 547.5,1576.2" fill="#fff" stroke-width="4.8"/>
<line x1="549.9" y1="1567.9" x2="580.7" y2="1580.3" stroke-width="3.1"/>
<polygon points="547.5,1629.9 579.1,1617.5 582.3,1634 550.7,1646.4" fill="#fff" stroke-width="4.8"/>
<line x1="549.9" y1="1638.2" x2="580.7" y2="1625.8" stroke-width="3.1"/>
<polyline points="547.5,1576.2 546,1603.1 547.5,1629.9" fill="none" stroke-width="3.1"/>
<polyline points="574.4,1586.5 574.4,1619.6" fill="none" stroke-width="4.8"/>
<rect x="882.4" y="1551.4" width="72.6" height="103.3" fill="#fff" stroke-width="4.8"/>
<polygon points="882.4,1551.4 898.4,1551.4 894,1603.1 898.4,1654.7 882.4,1654.7" fill="url(#v1)" stroke-width="3.1"/>
<polygon points="955,1551.4 934.7,1551.4 934.7,1582.4 926,1590.7 926,1615.4 934.7,1623.7 934.7,1654.7 955,1654.7" fill="url(#v2)" stroke-width="3.1"/>
<polygon points="904.2,1559.7 933.2,1572.1 930.3,1588.6 901.3,1576.2" fill="#fff" stroke-width="4.8"/>
<line x1="903.5" y1="1567.9" x2="931.8" y2="1580.3" stroke-width="3.1"/>
<polygon points="901.3,1629.9 930.3,1617.5 933.2,1634 904.2,1646.4" fill="#fff" stroke-width="4.8"/>
<line x1="903.5" y1="1638.2" x2="931.8" y2="1625.8" stroke-width="3.1"/>
<polyline points="901.3,1576.2 899.8,1603.1 901.3,1629.9" fill="none" stroke-width="3.1"/>
<polyline points="926,1586.5 926,1619.6" fill="none" stroke-width="4.8"/>
<line x1="527" y1="1654.7" x2="1177" y2="1654.7" stroke-width="4.8"/>
<polyline points="527,1654.7 527,1666 591,1666" fill="none" stroke-width="4.8"/>
<line x1="760" y1="1667" x2="942" y2="1667" stroke-width="4.8"/>
<line x1="1112" y1="1667.5" x2="1180" y2="1667.5" stroke-width="4.8"/>
<rect x="591" y="1654.7" width="169" height="293.3" fill="#fff" stroke-width="4.8"/>
<rect x="942" y="1654.7" width="170" height="293.3" fill="#fff" stroke-width="4.8"/>
<rect x="499.8" y="1836.5" width="91.2" height="112.3" fill="#fff" stroke-width="4.8"/>
<path d="M591,1836.5 L591,1948.8 L556,1948.8 Q551,1895 556,1836.5 Z" fill="url(#m1)" stroke-width="3.1"/>
<line x1="508.7" y1="1815" x2="508.7" y2="1972" stroke-width="3.1" stroke-dasharray="60 6 8 6"/>
<rect x="1110.5" y="1836.5" width="85.5" height="112.3" fill="#fff" stroke-width="4.8"/>
<path d="M1110.5,1836.5 L1110.5,1948.8 L1133,1948.8 Q1127,1895 1134,1836.5 Z" fill="url(#m1)" stroke-width="3.1"/>
<line x1="1185" y1="1816" x2="1185" y2="1980" stroke-width="3.1" stroke-dasharray="60 6 8 6"/>
<rect x="760" y="1836.5" width="182" height="111" fill="#fff" stroke-width="4.8"/>
<rect x="761.5" y="1838" width="15.3" height="108" fill="url(#m1)" stroke-width="3.1"/>
<rect x="918.4" y="1838" width="20.4" height="108" fill="url(#m1)" stroke-width="3.1"/>
<line x1="802.3" y1="1839" x2="776.8" y2="1946" stroke-width="3.1"/>
<line x1="812.5" y1="1839" x2="785.8" y2="1946" stroke-width="3.1"/>
<line x1="824" y1="1839" x2="794.7" y2="1946" stroke-width="3.1"/>
<line x1="868.7" y1="1839" x2="894.2" y2="1946" stroke-width="3.1"/>
<line x1="878.9" y1="1839" x2="904.4" y2="1946" stroke-width="3.1"/>
<line x1="890.4" y1="1839" x2="915.9" y2="1946" stroke-width="3.1"/>
<line x1="836.8" y1="1838" x2="836.8" y2="1947" stroke-width="4.8"/>
<line x1="847.8" y1="1815" x2="847.8" y2="1965" stroke-width="3.1" stroke-dasharray="60 6 8 6"/>
<rect x="576.6" y="1950" width="192.4" height="16.6" fill="#fff" stroke-width="4.8"/>
<rect x="929.3" y="1950" width="195.2" height="18" fill="#fff" stroke-width="4.8"/>
<rect x="588" y="1966.6" width="171" height="58.7" fill="#fff" stroke-width="4.8"/>
<rect x="938" y="1968" width="172.5" height="57.3" fill="#fff" stroke-width="4.8"/>
<line x1="417" y1="2005" x2="588" y2="2005" stroke-width="4.8"/>
<line x1="759" y1="2005" x2="938" y2="2005" stroke-width="4.8"/>
<line x1="1110.5" y1="2006" x2="1258" y2="2006" stroke-width="4.8"/>
<line x1="441" y1="2025.5" x2="1231" y2="2025.5" stroke-width="4.8"/>
<path d="M276.6,2006 L418,2006 L441,2025.5 L525.3,2025.5 L525.3,2224.5 L480.7,2224.5 L480.7,2065 Q480.7,2043 458,2043 L276.6,2043 Z" fill="url(#k1)" stroke-width="4.8"/>
<rect x="815.7" y="2025.5" width="52.3" height="199" fill="url(#k1)" stroke-width="4.8"/>
<path d="M1165,2025.5 L1231.3,2025.5 L1254.3,2007.7 L1396,2007.7 L1396,2032 Q1396,2044.6 1384,2044.6 L1213,2044.6 Q1200.7,2044.6 1200.7,2056 L1200.7,2225.8 L1165,2225.8 Z" fill="url(#k1)" stroke-width="4.8"/>
<polyline points="276.6,2043.4 274,2135 358.2,2219.4 480.7,2219.4" fill="none" stroke-width="4.8"/>
<circle cx="373.5" cy="2137.8" r="29.3" fill="none" stroke-width="4.8"/>
<line x1="323.8" y1="2137.8" x2="431" y2="2137.8" stroke-width="3.1"/>
<line x1="374.5" y1="2083" x2="372.5" y2="2192.6" stroke-width="3.1"/>
<line x1="1380.6" y1="2046" x2="1202" y2="2222" stroke-width="4.8"/>
<rect x="601.6" y="2025.5" width="136.4" height="199" fill="#fff" stroke-width="4.8"/>
<rect x="949.6" y="2025.5" width="141.6" height="200.3" fill="#fff" stroke-width="4.8"/>
<rect x="526.3" y="2029.3" width="72.7" height="95.7" fill="#fff" stroke-width="4.8"/>
<polygon points="526.3,2029.3 542.3,2029.3 537.9,2077.2 542.3,2125 526.3,2125" fill="url(#v1)" stroke-width="3.1"/>
<polygon points="599,2029.3 578.6,2029.3 578.6,2058 569.9,2065.7 569.9,2088.6 578.6,2096.3 578.6,2125 599,2125" fill="url(#v2)" stroke-width="3.1"/>
<polygon points="548.1,2037 577.2,2048.4 574.3,2063.8 545.2,2052.3" fill="#fff" stroke-width="4.8"/>
<line x1="547.4" y1="2044.6" x2="575.7" y2="2056.1" stroke-width="3.1"/>
<polygon points="545.2,2102 574.3,2090.5 577.2,2105.9 548.1,2117.3" fill="#fff" stroke-width="4.8"/>
<line x1="547.4" y1="2109.7" x2="575.7" y2="2098.2" stroke-width="3.1"/>
<polyline points="545.2,2052.3 543.7,2077.2 545.2,2102" fill="none" stroke-width="3.1"/>
<polyline points="569.9,2061.8 569.9,2092.5" fill="none" stroke-width="4.8"/>
<rect x="870.6" y="2029.3" width="76.4" height="98.3" fill="#fff" stroke-width="4.8"/>
<polygon points="870.6,2029.3 887.4,2029.3 882.8,2078.4 887.4,2127.6 870.6,2127.6" fill="url(#v1)" stroke-width="3.1"/>
<polygon points="947,2029.3 925.6,2029.3 925.6,2058.8 916.4,2066.7 916.4,2090.2 925.6,2098.1 925.6,2127.6 947,2127.6" fill="url(#v2)" stroke-width="3.1"/>
<polygon points="893.5,2037.2 924.1,2049 921,2064.7 890.5,2052.9" fill="#fff" stroke-width="4.8"/>
<line x1="892.8" y1="2045" x2="922.6" y2="2056.8" stroke-width="3.1"/>
<polygon points="890.5,2104 921,2092.2 924.1,2107.9 893.5,2119.7" fill="#fff" stroke-width="4.8"/>
<line x1="892.8" y1="2111.9" x2="922.6" y2="2100.1" stroke-width="3.1"/>
<polyline points="890.5,2052.9 888.9,2078.4 890.5,2104" fill="none" stroke-width="3.1"/>
<polyline points="916.4,2062.7 916.4,2094.2" fill="none" stroke-width="4.8"/>
<rect x="741.9" y="2029.3" width="72.7" height="97" fill="#fff" stroke-width="4.8"/>
<line x1="741.9" y1="2029.3" x2="814.6" y2="2126.3" stroke-width="4.8"/>
<line x1="741.9" y1="2126.3" x2="814.6" y2="2029.3" stroke-width="4.8"/>
<rect x="1095" y="2029.3" width="66.4" height="100.7" fill="#fff" stroke-width="4.8"/>
<line x1="1095" y1="2029.3" x2="1161.4" y2="2130" stroke-width="4.8"/>
<line x1="1095" y1="2130" x2="1161.4" y2="2029.3" stroke-width="4.8"/>
<line x1="441" y1="2025.5" x2="1231" y2="2025.5" stroke-width="4.8"/>
<rect x="529" y="2128.8" width="45.8" height="25.5" fill="#fff" stroke-width="4.8"/>
<rect x="578.6" y="2128.8" width="20.4" height="53.6" fill="url(#f1)" stroke-width="3.1"/>
<polygon points="481.7,2227 527.6,2227 527.6,2155.6 587.5,2155.6 587.5,2182.4 546.7,2182.4 546.7,2250 481.7,2250" fill="url(#m2)" stroke-width="4.8"/>
<rect x="546.7" y="2182.4" width="52.3" height="48.6" fill="#fff" stroke-width="4.8"/>
<rect x="551" y="2186" width="10" height="42" fill="url(#f1)" stroke-width="3.1"/>
<rect x="584" y="2186" width="13" height="42" fill="url(#f2)" stroke-width="3.1"/>
<circle cx="572" cy="2209" r="10.5" fill="none" stroke-width="4.8"/>
<line x1="548" y1="2209" x2="612" y2="2209" stroke-width="3.1"/>
<line x1="572" y1="2176" x2="572" y2="2246" stroke-width="3.1"/>
<rect x="576" y="2236" width="22" height="40" fill="url(#f1)" stroke-width="4.8"/>
<line x1="586" y1="2262" x2="586" y2="2290" stroke-width="3.1"/>
<rect x="767" y="2131" width="47.6" height="23" fill="#fff" stroke-width="4.8"/>
<rect x="743" y="2131" width="20" height="50" fill="url(#f1)" stroke-width="3.1"/>
<polygon points="756,2159 814.6,2159 814.6,2228 838,2228 838,2251 797,2251 797,2183 756,2183" fill="url(#m2)" stroke-width="4.8"/>
<rect x="743" y="2187.5" width="37" height="44.5" fill="#fff" stroke-width="4.8"/>
<line x1="743" y1="2187.5" x2="780" y2="2232" stroke-width="4.8"/>
<line x1="743" y1="2232" x2="780" y2="2187.5" stroke-width="4.8"/>
<rect x="784" y="2187" width="9" height="49" fill="#fff" stroke-width="3.1"/>
<polygon points="743,2238 755,2238 755,2251 765,2251 765,2268 743,2268" fill="url(#f1)" stroke-width="3.1"/>
<polygon points="603,2227 742,2227 742,2278.7 733,2290 613,2290 603,2278.7" fill="#fff" stroke-width="4.8"/>
<line x1="603" y1="2278.7" x2="742" y2="2278.7" stroke-width="4.8"/>
<line x1="613" y1="2229" x2="613" y2="2278" stroke-width="3.1"/>
<line x1="731" y1="2229" x2="731" y2="2278" stroke-width="3.1"/>
<rect x="877" y="2130.3" width="45.8" height="25.5" fill="#fff" stroke-width="4.8"/>
<rect x="926.6" y="2130.3" width="20.4" height="53.6" fill="url(#f1)" stroke-width="3.1"/>
<polygon points="845.4,2228.5 875.6,2228.5 875.6,2157.1 935.5,2157.1 935.5,2183.9 894.7,2183.9 894.7,2251.5 845.4,2251.5" fill="url(#m2)" stroke-width="4.8"/>
<rect x="894.7" y="2183.9" width="52.3" height="48.6" fill="#fff" stroke-width="4.8"/>
<rect x="899" y="2187.5" width="10" height="42" fill="url(#f1)" stroke-width="3.1"/>
<rect x="932" y="2187.5" width="13" height="42" fill="url(#f2)" stroke-width="3.1"/>
<circle cx="920" cy="2210.5" r="10.5" fill="none" stroke-width="4.8"/>
<line x1="896" y1="2210.5" x2="960" y2="2210.5" stroke-width="3.1"/>
<line x1="920" y1="2177.5" x2="920" y2="2247.5" stroke-width="3.1"/>
<rect x="924" y="2237.5" width="22" height="40" fill="url(#f1)" stroke-width="4.8"/>
<line x1="934" y1="2263.5" x2="934" y2="2291.5" stroke-width="3.1"/>
<rect x="1115" y="2132.5" width="47.6" height="23" fill="#fff" stroke-width="4.8"/>
<rect x="1091" y="2132.5" width="20" height="50" fill="url(#f1)" stroke-width="3.1"/>
<polygon points="1104,2160.5 1162.6,2160.5 1162.6,2229.5 1200.7,2229.5 1200.7,2252.5 1145,2252.5 1145,2184.5 1104,2184.5" fill="url(#m2)" stroke-width="4.8"/>
<rect x="1091" y="2189" width="37" height="44.5" fill="#fff" stroke-width="4.8"/>
<line x1="1091" y1="2189" x2="1128" y2="2233.5" stroke-width="4.8"/>
<line x1="1091" y1="2233.5" x2="1128" y2="2189" stroke-width="4.8"/>
<rect x="1132" y="2188.5" width="9" height="49" fill="#fff" stroke-width="3.1"/>
<polygon points="1091,2239.5 1103,2239.5 1103,2252.5 1113,2252.5 1113,2269.5 1091,2269.5" fill="url(#f1)" stroke-width="3.1"/>
<polygon points="951,2228.5 1090,2228.5 1090,2280.2 1081,2291.5 961,2291.5 951,2280.2" fill="#fff" stroke-width="4.8"/>
<line x1="951" y1="2280.2" x2="1090" y2="2280.2" stroke-width="4.8"/>
<line x1="961" y1="2230.5" x2="961" y2="2279.5" stroke-width="3.1"/>
<line x1="1079" y1="2230.5" x2="1079" y2="2279.5" stroke-width="3.1"/>
<path d="M478,2261 L541.6,2261 L541.6,2232 L562,2232 L562,2299 Q562,2309 572,2309 L613,2309 L613,2348.8 L558,2348.8 L523.8,2292.7 L520,2289 L478,2289 Z" fill="url(#w1)" stroke-width="4.8"/>
<path d="M835,2261 L804.4,2261 L804.4,2232 L784,2232 L784,2299 Q784,2309 774,2309 L733,2309 L733,2348.8 L766,2348.8 L809.5,2289 L835,2289 Z" fill="url(#w1)" stroke-width="4.8"/>
<rect x="591" y="2314" width="21" height="18" fill="#fff" stroke-width="4.8"/>
<rect x="734" y="2314" width="21" height="18" fill="#fff" stroke-width="4.8"/>
<polygon points="613,2291 733,2291 734,2546.6 722.7,2560.7 625.8,2560.7 617,2546.6" fill="#fff" stroke-width="4.8"/>
<line x1="617" y1="2546.6" x2="734" y2="2546.6" stroke-width="4.8"/>
<rect x="652.6" y="2405" width="37" height="137.8" rx="18.5" ry="18.5" fill="#fff" stroke-width="4.8"/>
<path d="M847,2262.5 L889,2262.5 L889,2233.5 L905.9,2233.5 L905.9,2296 Q905.9,2305.9 916,2305.9 L1118,2305.9 Q1127.8,2305.9 1127.8,2296 L1127.8,2233.5 L1143,2233.5 L1143,2262.5 L1200.7,2262.5 L1200.7,2292 L1153,2292 L1126.5,2331.4 L914.8,2331.4 L881.6,2290.6 L847,2290.6 Z" fill="url(#c1)" stroke-width="4.8"/>
<text transform="translate(276.5,378.6) rotate(-90) skewX(-13)" x="0" y="22.9" text-anchor="middle" font-size="64" fill="#000" stroke="none">4</text>
<line x1="316" y1="377.5" x2="564" y2="394" stroke-width="2.4"/>
<text transform="translate(237,653.6) rotate(-90) skewX(-13)" x="0" y="22.9" text-anchor="middle" font-size="64" fill="#000" stroke="none" textLength="68" lengthAdjust="spacingAndGlyphs">13</text>
<line x1="274" y1="652.3" x2="478.6" y2="593.5" stroke-width="2.4"/>
<text transform="translate(227.4,727.8) rotate(-90) skewX(-13)" x="0" y="22.9" text-anchor="middle" font-size="64" fill="#000" stroke="none">1</text>
<line x1="261" y1="731" x2="424.4" y2="757.8" stroke-width="2.4"/>
<text transform="translate(172,820) rotate(-90) skewX(-13)" x="0" y="21.5" text-anchor="middle" font-size="60" fill="#000" stroke="none">Д</text>
<line x1="208.4" y1="817.7" x2="507.3" y2="856" stroke-width="2.4"/>
<text transform="translate(170.6,882.8) rotate(-90) skewX(-13)" x="0" y="22.9" text-anchor="middle" font-size="64" fill="#000" stroke="none">3</text>
<line x1="212.7" y1="881.5" x2="540.6" y2="909" stroke-width="2.4"/>
<text transform="translate(193,1199) rotate(-90) skewX(-13)" x="0" y="22.9" text-anchor="middle" font-size="64" fill="#000" stroke="none">4</text>
<line x1="219" y1="1163.4" x2="570" y2="991" stroke-width="2.4"/>
<text transform="translate(159,1339) rotate(-90) skewX(-13)" x="0" y="22.9" text-anchor="middle" font-size="64" fill="#000" stroke="none">7</text>
<line x1="200" y1="1337.6" x2="633" y2="1222.5" stroke-width="2.4"/>
<text transform="translate(163,1513) rotate(-90) skewX(-13)" x="0" y="22.9" text-anchor="middle" font-size="64" fill="#000" stroke="none">8</text>
<line x1="201.8" y1="1494" x2="595" y2="1387" stroke-width="2.4"/>
<text transform="translate(175,1627) rotate(-90) skewX(-13)" x="0" y="22.9" text-anchor="middle" font-size="64" fill="#000" stroke="none">9</text>
<line x1="208.4" y1="1610" x2="653.4" y2="1510.6" stroke-width="2.4"/>
<text transform="translate(182,1771) rotate(-90) skewX(-13)" x="0" y="22.9" text-anchor="middle" font-size="64" fill="#000" stroke="none">2</text>
<line x1="223.8" y1="1761.5" x2="449.7" y2="1634.9" stroke-width="2.4"/>
<text transform="translate(1349.5,87.8) rotate(-90) skewX(-13)" x="0" y="22.9" text-anchor="middle" font-size="64" fill="#000" stroke="none">6</text>
<line x1="1319.6" y1="104.2" x2="1145.2" y2="211" stroke-width="2.4"/>
<text transform="translate(1430,367) rotate(-90) skewX(-13)" x="0" y="22.9" text-anchor="middle" font-size="64" fill="#000" stroke="none" textLength="56" lengthAdjust="spacingAndGlyphs">11</text>
<line x1="1386.5" y1="348.3" x2="1178" y2="296" stroke-width="2.4"/>
<text transform="translate(1496,703) rotate(-90) skewX(-13)" x="0" y="22.9" text-anchor="middle" font-size="64" fill="#000" stroke="none">3</text>
<line x1="1457.8" y1="694.8" x2="1156" y2="741.5" stroke-width="2.4"/>
<text transform="translate(1501.6,775.7) rotate(-90) skewX(-13)" x="0" y="22.9" text-anchor="middle" font-size="64" fill="#000" stroke="none" textLength="62" lengthAdjust="spacingAndGlyphs">10</text>
<line x1="1466" y1="769" x2="1233" y2="801.8" stroke-width="2.4"/>
<text transform="translate(1539,889.5) rotate(-90) skewX(-13)" x="0" y="21.5" text-anchor="middle" font-size="60" fill="#000" stroke="none">Д</text>
<line x1="1488" y1="879.7" x2="1189" y2="851" stroke-width="2.4"/>
<text transform="translate(1537,944) rotate(-90) skewX(-13)" x="0" y="22.9" text-anchor="middle" font-size="64" fill="#000" stroke="none">5</text>
<line x1="1488" y1="916" x2="1068.4" y2="844.6" stroke-width="2.4"/>
<text transform="translate(1651,1172) rotate(-90) skewX(-13)" x="0" y="30.1" text-anchor="middle" font-size="84" fill="#000" stroke="none" textLength="134" lengthAdjust="spacingAndGlyphs">Фиг.1</text>
<line x1="224" y1="269" x2="318.6" y2="269" stroke-width="9.5"/>
<line x1="246.6" y1="262" x2="246.6" y2="152" stroke-width="2.4"/>
<polygon points="246.6,262 239.1,212 246.6,232 254.1,212" fill="#000" stroke-width="1"/>
<text transform="translate(203.8,186.7) rotate(-90) skewX(-13)" x="0" y="22.9" text-anchor="middle" font-size="64" fill="#000" stroke="none">А</text>
<line x1="223" y1="575" x2="310.4" y2="575" stroke-width="9.5"/>
<line x1="244.6" y1="568" x2="244.6" y2="467" stroke-width="2.4"/>
<polygon points="244.6,568 237.1,518 244.6,538 252.1,518" fill="#000" stroke-width="1"/>
<text transform="translate(200.6,510) rotate(-90) skewX(-13)" x="0" y="22.9" text-anchor="middle" font-size="64" fill="#000" stroke="none">Б</text>
<line x1="1340" y1="266" x2="1433" y2="266" stroke-width="9.5"/>
<line x1="1414" y1="262" x2="1414" y2="145.3" stroke-width="2.4"/>
<polygon points="1414,262 1406.5,212 1414,232 1421.5,212" fill="#000" stroke-width="1"/>
<text transform="translate(1452,214) rotate(-90) skewX(-13)" x="0" y="22.9" text-anchor="middle" font-size="64" fill="#000" stroke="none">А</text>
<line x1="1349.8" y1="595" x2="1441.4" y2="595" stroke-width="9.5"/>
<line x1="1414" y1="591" x2="1414" y2="455" stroke-width="2.4"/>
<polygon points="1414,591 1406.5,541 1414,561 1421.5,541" fill="#000" stroke-width="1"/>
<text transform="translate(1459,518) rotate(-90) skewX(-13)" x="0" y="22.9" text-anchor="middle" font-size="64" fill="#000" stroke="none">Б</text>
<line x1="157.9" y1="1008.5" x2="247" y2="1008.5" stroke-width="9.5"/>
<line x1="182" y1="1015" x2="182" y2="1144" stroke-width="2.4"/>
<polygon points="182,1015 174.5,1065 182,1045 189.5,1065" fill="#000" stroke-width="1"/>
<text transform="translate(145,1092) rotate(-90) skewX(-13)" x="0" y="22.9" text-anchor="middle" font-size="64" fill="#000" stroke="none">В</text>
<line x1="1425" y1="1014" x2="1510" y2="1014" stroke-width="9.5"/>
<line x1="1493.5" y1="1021" x2="1493.5" y2="1141.8" stroke-width="2.4"/>
<polygon points="1493.5,1021 1486,1071 1493.5,1051 1501,1071" fill="#000" stroke-width="1"/>
<text transform="translate(1538.7,1114.4) rotate(-90) skewX(-13)" x="0" y="22.9" text-anchor="middle" font-size="64" fill="#000" stroke="none">В</text>
<polyline points="680,5 675,800 675.5,1500 671.7,2573" fill="none" stroke-width="2.7" stroke-dasharray="330 8 16 8"/>
<polyline points="1029.5,0 1029,1100 1017.5,2345" fill="none" stroke-width="2.7" stroke-dasharray="330 8 16 8"/>
<line x1="670.5" y1="245" x2="666" y2="1143" stroke-width="2.7"/>
<line x1="1038" y1="245" x2="1039" y2="1143" stroke-width="2.7"/>
<line x1="1371.3" y1="875" x2="1364" y2="1951.3" stroke-width="3.1" stroke-dasharray="51 13"/>
<line x1="1342" y1="955.5" x2="1422" y2="955.5" stroke-width="2.7"/>
<line x1="1342" y1="1236" x2="1424" y2="1236" stroke-width="2.7"/>
<line x1="1345" y1="1516" x2="1427.6" y2="1516" stroke-width="2.7"/>
<line x1="1334" y1="1797.5" x2="1418" y2="1797.5" stroke-width="2.7"/>
<line x1="355" y1="580.7" x2="564" y2="580.7" stroke-width="2.7"/>
<line x1="482.4" y1="514" x2="482.4" y2="650" stroke-width="2.7"/>
<line x1="358.7" y1="493.5" x2="430" y2="493.5" stroke-width="2.7"/>
<line x1="350" y1="675" x2="432.6" y2="675" stroke-width="2.7"/></svg></body></html>
